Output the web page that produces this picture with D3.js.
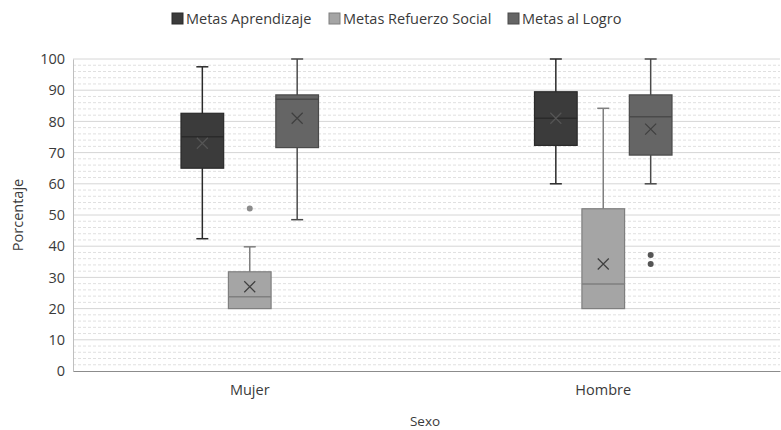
<!DOCTYPE html>
<html>
<head>
<meta charset="utf-8">
<script src="https://cdn.jsdelivr.net/npm/d3@7/dist/d3.min.js"></script>
<style>
  body { margin: 0; background: #fff; }
  svg { display: block; font-family: "Open Sans", "Noto Sans", sans-serif; }
</style>
</head>
<body>
<div id="chart"></div>
<script>
// categories and series
const groups = ['Mujer', 'Hombre'];
const series = ['Metas Aprendizaje', 'Metas Refuerzo Social', 'Metas al Logro'];
const colors = ['#3b3b3b', '#a5a5a5', '#656565'];
const strokes = ['#2a2a2a', '#7f7f7f', '#4a4a4a'];

// box stats: [min, q1, median, q3, max]
const mujerStats = [
  [42.4, 65, 75.1, 82.6, 97.5],
  [20, 20, 23.8, 31.8, 39.8],
  [48.5, 71.6, 87.1, 88.5, 100]
];
const hombreStats = [
  [60, 72.3, 81, 89.5, 100],
  [20, 20, 27.9, 52, 84.2],
  [60, 69.2, 81.5, 88.5, 100]
];
const mujerMeans = [73, 27, 81];
const hombreMeans = [81, 34.3, 77.5];
const mujerOutliers = [[], [52.1], []];
const hombreOutliers = [[], [], [37.2, 34.3]];

const yTicks = [0, 10, 20, 30, 40, 50, 60, 70, 80, 90, 100];

const width = 781, height = 430;
const margin = { top: 59, right: 1, bottom: 59, left: 73 };
const fontSize = 14.5;
const textColor = '#3a3a3a';

const boxes = [];
groups.forEach((g, gi) => {
  const stats = gi === 0 ? mujerStats : hombreStats;
  const means = gi === 0 ? mujerMeans : hombreMeans;
  const outs = gi === 0 ? mujerOutliers : hombreOutliers;
  series.forEach((s, si) => {
    const [min, q1, med, q3, max] = stats[si];
    boxes.push({ group: g, series: s, si, min, q1, med, q3, max, mean: means[si], outliers: outs[si] });
  });
});

const svg = d3.select('#chart').append('svg')
  .attr('width', width).attr('height', height);

const x0 = d3.scaleBand().domain(groups).range([margin.left, width - margin.right]);
const x1 = d3.scaleBand().domain(series).range([-73.5, 73.5]).padding(0.1);
const y = d3.scaleLinear().domain([0, 100]).range([height - margin.bottom, margin.top]);

// minor dashed gridlines every 2
const minor = d3.range(2, 100, 2).filter(v => v % 10 !== 0);
svg.append('g').selectAll('line').data(minor).join('line')
  .attr('x1', margin.left).attr('x2', width - margin.right)
  .attr('y1', d => y(d)).attr('y2', d => y(d))
  .attr('stroke', '#e0e0e0').attr('stroke-dasharray', '3,2');

// major gridlines
svg.append('g').selectAll('line').data(yTicks.slice(1)).join('line')
  .attr('x1', margin.left).attr('x2', width - margin.right)
  .attr('y1', d => y(d)).attr('y2', d => y(d))
  .attr('stroke', '#d6d6d6');

// y axis
const yAxis = svg.append('g')
  .attr('transform', `translate(${margin.left},0)`)
  .call(d3.axisLeft(y).tickValues(yTicks).tickSize(0).tickPadding(8));
yAxis.select('.domain').attr('stroke', '#bfbfbf');
yAxis.selectAll('text').attr('font-size', fontSize).attr('fill', textColor)
  .attr('font-family', '"Open Sans", sans-serif');

// x axis
const xAxis = svg.append('g')
  .attr('transform', `translate(0,${y(0)})`)
  .call(d3.axisBottom(x0).tickSize(0).tickPadding(14));
xAxis.select('.domain').attr('stroke', '#8c8c8c');
xAxis.selectAll('text').attr('font-size', fontSize).attr('fill', textColor)
  .attr('font-family', '"Open Sans", sans-serif');

// boxes
const g = svg.append('g');
const bx = d => x0(d.group) + x0.bandwidth() / 2 + x1(d.series);
const cx = d => bx(d) + x1.bandwidth() / 2;

const item = g.selectAll('g.box').data(boxes).join('g').attr('class', 'box');

item.append('line') // whisker
  .attr('x1', cx).attr('x2', cx)
  .attr('y1', d => y(d.max)).attr('y2', d => y(d.min))
  .attr('stroke', d => strokes[d.si]).attr('stroke-width', 1.5);
item.append('line')
  .attr('x1', d => cx(d) - 6).attr('x2', d => cx(d) + 6)
  .attr('y1', d => y(d.max)).attr('y2', d => y(d.max))
  .attr('stroke', d => strokes[d.si]).attr('stroke-width', 1.5);
item.append('line')
  .attr('x1', d => cx(d) - 6).attr('x2', d => cx(d) + 6)
  .attr('y1', d => y(d.min)).attr('y2', d => y(d.min))
  .attr('stroke', d => strokes[d.si]).attr('stroke-width', 1.5)
  .attr('display', d => d.min === d.q1 ? 'none' : null);
item.append('rect')
  .attr('x', bx).attr('width', x1.bandwidth())
  .attr('y', d => y(d.q3)).attr('height', d => y(d.q1) - y(d.q3))
  .attr('fill', d => colors[d.si]).attr('stroke', d => strokes[d.si]).attr('stroke-width', 1.2);
item.append('line') // median
  .attr('x1', bx).attr('x2', d => bx(d) + x1.bandwidth())
  .attr('y1', d => y(d.med)).attr('y2', d => y(d.med))
  .attr('stroke', d => strokes[d.si]).attr('stroke-width', 1.5);
// mean marker
item.append('path')
  .attr('d', d => {
    const px = cx(d), py = y(d.mean), r = 5.5;
    return `M${px - r},${py - r}L${px + r},${py + r}M${px - r},${py + r}L${px + r},${py - r}`;
  })
  .attr('stroke', d => d.si === 0 ? '#555' : '#3f3f3f').attr('stroke-width', 1.2).attr('fill', 'none');
// outliers
item.selectAll('circle').data(d => d.outliers.map(v => ({ v, d }))).join('circle')
  .attr('cx', o => cx(o.d)).attr('cy', o => y(o.v)).attr('r', 3)
  .attr('fill', o => o.d.si === 1 ? '#8c8c8c' : '#555');

// axis titles
svg.append('text').attr('x', (margin.left + width) / 2 - 2).attr('y', 426)
  .attr('text-anchor', 'middle').attr('font-size', 13.5).attr('fill', textColor).text('Sexo');
svg.append('text').attr('transform', `translate(23,${y(50)}) rotate(-90)`)
  .attr('text-anchor', 'middle').attr('font-size', fontSize).attr('fill', textColor).text('Porcentaje');

// legend
const legendX = [172, 329, 508];
const leg = svg.append('g').selectAll('g').data(series).join('g')
  .attr('transform', (d, i) => `translate(${legendX[i]},13)`);
leg.append('rect').attr('width', 11).attr('height', 11)
  .attr('fill', (d, i) => colors[i]).attr('stroke', (d, i) => strokes[i]);
leg.append('text').attr('x', 14).attr('y', 10.5).attr('font-size', fontSize).attr('fill', textColor)
  .text(d => d);
</script>
</body>
</html>
